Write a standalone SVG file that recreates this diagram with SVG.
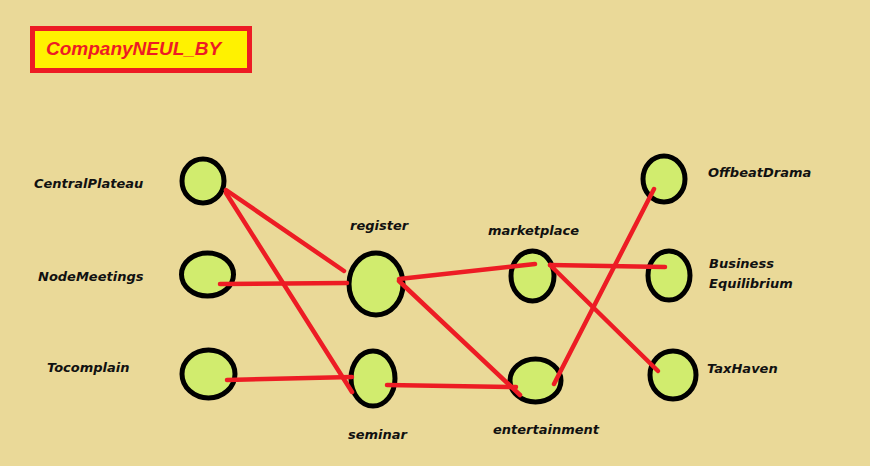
<svg xmlns="http://www.w3.org/2000/svg" width="870" height="466" viewBox="0 0 870 466">
<style>
.node{fill:#D1EC6E;stroke:#000;stroke-width:5}
.lbl{font-family:"DejaVu Sans",Verdana,sans-serif;font-weight:bold;font-style:italic;font-size:13px;fill:#111}
.edge{stroke:#ED1C24;stroke-width:4.5;stroke-linecap:round;fill:none}
</style>
<rect width="870" height="466" fill="#EAD998"/>
<g id="title">
<rect x="32.5" y="28.5" width="217" height="42" fill="#FFF200" stroke="#ED1C24" stroke-width="5"/>
<text x="46" y="55" font-family="'Liberation Sans',Arial,sans-serif" font-weight="bold" font-style="italic" font-size="19" fill="#ED1C24">CompanyNEUL_BY</text>
</g>
<g id="CentralPlateau">
<ellipse class="node" cx="203" cy="181" rx="21" ry="22"/>
<text class="lbl" x="34" y="188">CentralPlateau</text>
</g>
<g id="NodeMeetings">
<ellipse class="node" cx="207.5" cy="274.5" rx="26" ry="21.5"/>
<text class="lbl" x="38" y="281">NodeMeetings</text>
</g>
<g id="Tocomplain">
<ellipse class="node" cx="208.5" cy="374" rx="26.5" ry="24"/>
<text class="lbl" x="47" y="372">Tocomplain</text>
</g>
<g id="register">
<ellipse class="node" cx="376" cy="284" rx="27" ry="31"/>
<text class="lbl" x="350" y="230">register</text>
</g>
<g id="seminar">
<ellipse class="node" cx="373" cy="378.5" rx="22" ry="27.5"/>
<text class="lbl" x="348" y="439">seminar</text>
</g>
<g id="marketplace">
<ellipse class="node" cx="532.5" cy="276" rx="21.5" ry="25"/>
<text class="lbl" x="488" y="235">marketplace</text>
</g>
<g id="entertainment">
<ellipse class="node" cx="535.5" cy="380.5" rx="25.5" ry="21.5"/>
<text class="lbl" x="493" y="434">entertainment</text>
</g>
<g id="OffbeatDrama">
<ellipse class="node" cx="664" cy="179" rx="21" ry="23"/>
<text class="lbl" x="708" y="177">OffbeatDrama</text>
</g>
<g id="BusinessEquilibrium">
<ellipse class="node" cx="669" cy="275.5" rx="21" ry="24.5"/>
<text class="lbl" x="709" y="268">Business</text>
<text class="lbl" x="709" y="288">Equilibrium</text>
</g>
<g id="TaxHaven">
<ellipse class="node" cx="673" cy="375" rx="23" ry="24"/>
<text class="lbl" x="707" y="373">TaxHaven</text>
</g>
<g id="connectors">
<line class="edge" x1="226" y1="190" x2="344" y2="271"/>
<line class="edge" x1="226" y1="193" x2="352" y2="392"/>
<line class="edge" x1="220" y1="284" x2="347" y2="283"/>
<line class="edge" x1="227" y1="380" x2="352" y2="377"/>
<line class="edge" x1="387" y1="385" x2="516" y2="387"/>
<line class="edge" x1="399" y1="279" x2="535" y2="264"/>
<line class="edge" x1="399" y1="281" x2="520" y2="395"/>
<line class="edge" x1="550" y1="265" x2="665" y2="267"/>
<line class="edge" x1="550" y1="265" x2="658" y2="371"/>
<line class="edge" x1="554" y1="384" x2="654" y2="189"/>
</g>
</svg>
